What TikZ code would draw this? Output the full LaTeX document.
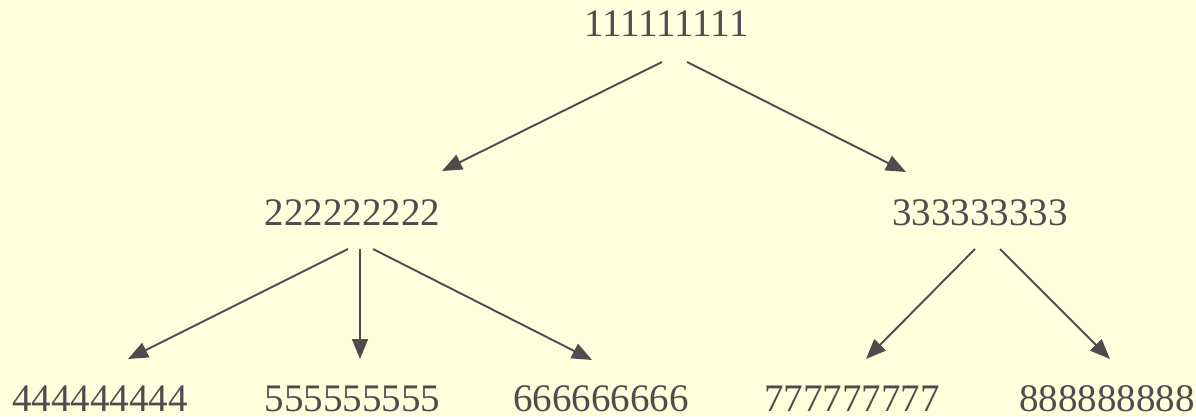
\documentclass[tikz,border=0pt]{standalone}
\usepackage{fontspec}
\setmainfont{Liberation Serif}
\usetikzlibrary{arrows.meta}
\definecolor{paper}{HTML}{FFFFDD}
\definecolor{ink}{HTML}{4D4D4D}
\begin{document}
\begin{tikzpicture}[x=1pt,y=1pt,
  item/.style={anchor=base, inner sep=0pt, text=ink, text depth=0pt,
    font=\fontsize{39}{42}\selectfont},
  link/.style={draw=ink, line width=1.9pt,
    -{Triangle[length=20pt,width=16pt]}}]
  \fill[paper] (0,0) rectangle (1196,416);
  \useasboundingbox (0,0) rectangle (1196,416);

  % tree levels
  \node[item] (n1) at (666.5,379) {111111111};
  \node[item] (n2) at (352.5,191) {222222222};
  \node[item] (n3) at (980,191) {333333333};
  \node[item] (n4) at (100,5) {444444444};
  \node[item] (n5) at (352.5,5) {555555555};
  \node[item] (n6) at (601,5) {666666666};
  \node[item] (n7) at (852,5) {777777777};
  \node[item] (n8) at (1107,5) {888888888};

  % connectors
  \draw[link] ([shift={(-4.5,-25)}]n1.base) -- ([shift={(89.5,54)}]n2.base);
  \draw[link] ([shift={(20.5,-25)}]n1.base) -- ([shift={(-74,53)}]n3.base);
  \draw[link] ([shift={(-4.5,-24)}]n2.base) -- ([shift={(28,52)}]n4.base);
  \draw[link] ([shift={(7.5,-24)}]n2.base) -- ([shift={(7.5,52)}]n5.base);
  \draw[link] ([shift={(20.5,-24)}]n2.base) -- ([shift={(-9,51)}]n6.base);
  \draw[link] ([shift={(-5,-24)}]n3.base) -- ([shift={(14,52)}]n7.base);
  \draw[link] ([shift={(20,-24)}]n3.base) -- ([shift={(3,52)}]n8.base);
\end{tikzpicture}
\end{document}
